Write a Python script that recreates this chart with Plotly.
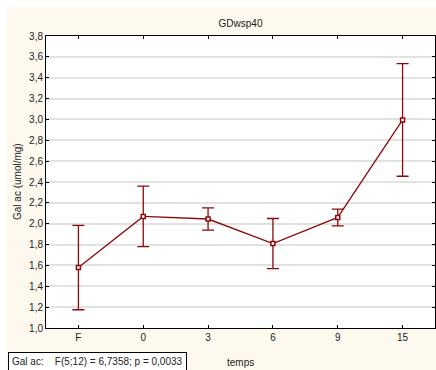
import plotly.graph_objects as go

# data
temps = ["F", "0", "3", "6", "9", "15"]
gal_ac = [1.58, 2.07, 2.045, 1.81, 2.06, 2.995]
err = [0.405, 0.29, 0.107, 0.24, 0.08, 0.54]

title = "GDwsp40"
stat_text = "Gal ac:    F(5;12) = 6,7358; p = 0,0033"

dark_red = "#8B0A0A"
cream = "#fdf9ee"

fig = go.Figure()

fig.add_trace(go.Scatter(
    x=temps,
    y=gal_ac,
    mode="lines+markers",
    line=dict(color=dark_red, width=1.3),
    marker=dict(symbol="square", size=4, color="white", line=dict(color=dark_red, width=1.5)),
    error_y=dict(type="data", array=err, visible=True, color=dark_red, thickness=1.3, width=6),
    showlegend=False,
    hoverinfo="skip",
))

# plot area: x 46..435, y 36..328 (px)
W, H = 389, 292

def px_x(p):
    return (p - 46) / W

def px_y(p):
    return (328 - p) / H

fig.update_layout(
    width=436,
    height=370,
    margin=dict(l=46, r=1, t=36, b=42),
    paper_bgcolor=cream,
    plot_bgcolor="white",
    separators=", ",
    font=dict(family="Liberation Sans, Arial", size=10, color="#222222"),
    title=dict(text=title, x=0.5, xref="paper", y=1 - 23 / 370, yanchor="middle",
               font=dict(size=10, color="#222222")),
    shapes=[
        # white strips outside the cream panel
        dict(type="rect", xref="paper", yref="paper", x0=px_x(-5), x1=px_x(6),
             y0=px_y(380), y1=px_y(-5), fillcolor="white", line_width=0, layer="below"),
        dict(type="rect", xref="paper", yref="paper", x0=px_x(-5), x1=px_x(445),
             y0=px_y(7), y1=px_y(-5), fillcolor="white", line_width=0, layer="below"),
    ],
    annotations=[
        dict(text="Gal ac (umol/mg)", xref="paper", yref="paper", x=px_x(17), y=0.5,
             xanchor="center", yanchor="middle",
             textangle=-90, showarrow=False, font=dict(size=10)),
        dict(text="temps", xref="paper", yref="paper", x=px_x(241), y=px_y(362),
             xanchor="center", yanchor="middle", showarrow=False, font=dict(size=10)),
        dict(text=stat_text, xref="paper", yref="paper", x=px_x(8), y=px_y(352),
             xanchor="left", yanchor="top", showarrow=False, font=dict(size=10),
             bordercolor="black", borderwidth=1, borderpad=3, bgcolor="white"),
    ],
)

fig.update_xaxes(
    type="category",
    range=[-0.5, 5.5],
    showline=True, linecolor="black", linewidth=1, mirror="ticks",
    ticks="inside", ticklen=3, tickcolor="black",
    showgrid=False, fixedrange=True,
)
fig.update_yaxes(
    range=[1.0, 3.8],
    dtick=0.2,
    tickformat=".1f",
    showline=True, linecolor="black", linewidth=1, mirror="ticks",
    ticks="inside", ticklen=3, tickcolor="black",
    showgrid=True, gridcolor="#e2e2e2", gridwidth=2,
    zeroline=False, fixedrange=True,
)

# drop the page's default body margin so the figure sits at the window's corner
fig.write_html("out.html", config={"displayModeBar": False},
               post_script="document.body.style.margin='0';document.body.style.overflow='hidden';")
